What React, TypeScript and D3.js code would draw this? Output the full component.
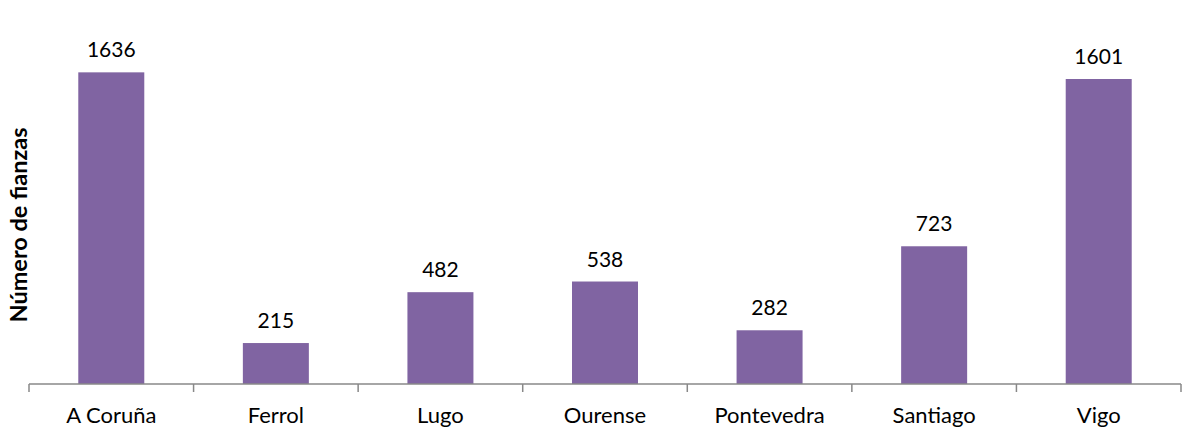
import React from "react";
import * as d3 from "d3";

const categories = ["A Coruña", "Ferrol", "Lugo", "Ourense", "Pontevedra", "Santiago", "Vigo"];
const values = [1636, 215, 482, 538, 282, 723, 1601];

export default function App() {
  const W = 1200, H = 442;
  const left = 29, right = 1181, base = 384;
  const band = d3.scaleBand<string>().domain(categories).range([left, right]);
  const y = d3.scaleLinear().domain([0, 1800]).range([base, base - 1800 * 0.1905]);
  const font = "Lato, 'Open Sans', sans-serif";
  return (
    <svg width={W} height={H} style={{ position: "absolute", left: 0, top: 0 }}>
      <rect width={W} height={H} fill="#fff" />
      {categories.map((c, i) => {
        const bx = band(c)! + band.step() / 2 - 33;
        return (
          <g key={c}>
            <rect x={bx} y={y(values[i])} width={66} height={base - y(values[i])} fill="#8064A2" />
            <text x={bx + 33} y={y(values[i]) - 15} textAnchor="middle" fontFamily={font} fontSize={21} fill="#000">{values[i]}</text>
            <text x={bx + 33} y={423} textAnchor="middle" fontFamily={font} fontSize={22} fill="#000">{c}</text>
          </g>
        );
      })}
      <line x1={left} x2={right} y1={base} y2={base} stroke="#888" strokeWidth={1.5} />
      {d3.range(categories.length + 1).map(i => {
        const tx = left + i * band.step();
        return <line key={i} x1={tx} x2={tx} y1={base} y2={392} stroke="#888" strokeWidth={1.5} />;
      })}
      <text transform={`translate(27,225) rotate(-90)`} textAnchor="middle" fontFamily={font} fontSize={23.5} fontWeight="bold" fill="#000">Número de fianzas</text>
    </svg>
  );
}
